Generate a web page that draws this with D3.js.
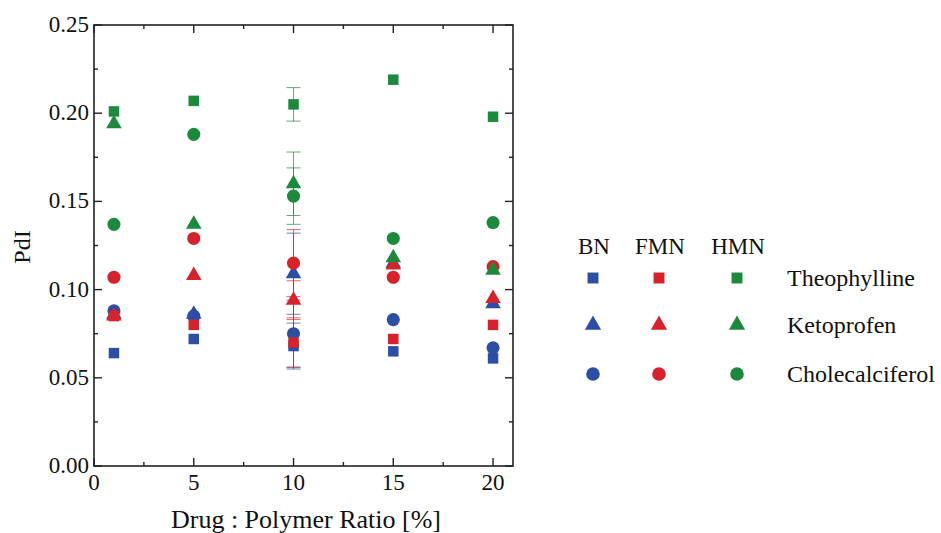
<html>
<head>
<meta charset="utf-8">
<style>
  body { margin: 0; background: #fff; }
  svg text { font-family: 'Liberation Serif', 'Times New Roman', serif; fill: #111; }
  .frame { fill: none; stroke: #222; stroke-width: 1.6; }
  .tick { stroke: #222; stroke-width: 1.4; }
</style>
</head>
<body>
<script src="https://cdn.jsdelivr.net/npm/d3@7"></script>
<script>

var ratios = [1, 5, 10, 15, 20];
var polymers = ['BN', 'FMN', 'HMN'];
var drugs = ['Theophylline', 'Ketoprofen', 'Cholecalciferol'];
var yTicks = [0, 0.05, 0.10, 0.15, 0.20, 0.25];
var xTicks = [0, 5, 10, 15, 20];

// PdI values, one array per polymer / drug
var bnTheo  = [0.064, 0.072, 0.068, 0.065, 0.061];
var bnKeto  = [0.086, 0.086, 0.109, 0.115, 0.092];
var bnChole = [0.088, 0.085, 0.075, 0.083, 0.067];
var fmnTheo  = [0.085, 0.080, 0.070, 0.072, 0.080];
var fmnKeto  = [0.085, 0.108, 0.094, 0.114, 0.095];
var fmnChole = [0.107, 0.129, 0.115, 0.107, 0.113];
var hmnTheo  = [0.201, 0.207, 0.205, 0.219, 0.198];
var hmnKeto  = [0.194, 0.137, 0.160, 0.118, 0.111];
var hmnChole = [0.137, 0.188, 0.153, 0.129, 0.138];

// standard deviations (only reported at 10 %)
var bnTheoErr  = [null, null, 0.013, null, null];
var bnKetoErr  = [null, null, 0.023, null, null];
var bnCholeErr = [null, null, 0.019, null, null];
var fmnTheoErr  = [null, null, 0.014, null, null];
var fmnKetoErr  = [null, null, 0.011, null, null];
var fmnCholeErr = [null, null, 0.019, null, null];
var hmnTheoErr  = [null, null, 0.0095, null, null];
var hmnKetoErr  = [null, null, 0.018, null, null];
var hmnCholeErr = [null, null, 0.016, null, null];

var colors = { BN: '#2c4ea5', FMN: '#d8222b', HMN: '#1c8a3d' };
var shapes = { Theophylline: d3.symbolSquare, Ketoprofen: d3.symbolTriangle, Cholecalciferol: d3.symbolCircle };
var sizes = { Theophylline: 110, Ketoprofen: 105, Cholecalciferol: 135 };

var series = [
  { polymer: 'BN', drug: 'Theophylline', values: bnTheo, err: bnTheoErr },
  { polymer: 'BN', drug: 'Ketoprofen', values: bnKeto, err: bnKetoErr },
  { polymer: 'BN', drug: 'Cholecalciferol', values: bnChole, err: bnCholeErr },
  { polymer: 'FMN', drug: 'Theophylline', values: fmnTheo, err: fmnTheoErr },
  { polymer: 'FMN', drug: 'Ketoprofen', values: fmnKeto, err: fmnKetoErr },
  { polymer: 'FMN', drug: 'Cholecalciferol', values: fmnChole, err: fmnCholeErr },
  { polymer: 'HMN', drug: 'Theophylline', values: hmnTheo, err: hmnTheoErr },
  { polymer: 'HMN', drug: 'Ketoprofen', values: hmnKeto, err: hmnKetoErr },
  { polymer: 'HMN', drug: 'Cholecalciferol', values: hmnChole, err: hmnCholeErr }
];

var width = 941, height = 533;
var plotL = 94, plotR = 513, plotT = 25, plotB = 466;

var svg = d3.select('body').append('svg')
  .attr('width', width)
  .attr('height', height);

var x = d3.scaleLinear().domain([0, 21]).range([plotL, plotR]);
var y = d3.scaleLinear().domain([0, 0.25]).range([plotB, plotT]);

// error bars first, markers on top
series.forEach(function (s) {
  var g = svg.append('g').attr('stroke', colors[s.polymer]).attr('stroke-opacity', 0.7).attr('stroke-width', 1);
  s.values.forEach(function (v, i) {
    var e = s.err[i];
    if (e == null) return;
    var cx = x(ratios[i]);
    g.append('line').attr('x1', cx).attr('x2', cx).attr('y1', y(v - e)).attr('y2', y(v + e));
    [v - e, v + e].forEach(function (c) {
      g.append('line').attr('x1', cx - 7).attr('x2', cx + 7).attr('y1', y(c)).attr('y2', y(c));
    });
  });
});

series.forEach(function (s) {
  svg.append('g').selectAll('path')
    .data(s.values)
    .enter().append('path')
    .attr('d', d3.symbol().type(shapes[s.drug]).size(sizes[s.drug]))
    .attr('transform', function (d, i) { return 'translate(' + x(ratios[i]) + ',' + y(d) + ')'; })
    .attr('fill', colors[s.polymer]);
});

// frame
svg.append('rect').attr('class', 'frame')
  .attr('x', plotL).attr('y', plotT).attr('width', plotR - plotL).attr('height', plotB - plotT);

// inward ticks on all four sides
var xMinor = d3.range(0, 21, 2.5);
var yMinor = d3.range(0, 0.2501, 0.025);
xMinor.forEach(function (t) {
  var len = (t % 5 === 0) ? 8 : 4;
  svg.append('line').attr('class', 'tick').attr('x1', x(t)).attr('x2', x(t)).attr('y1', plotB).attr('y2', plotB - len);
  svg.append('line').attr('class', 'tick').attr('x1', x(t)).attr('x2', x(t)).attr('y1', plotT).attr('y2', plotT + len);
});
yMinor.forEach(function (t, i) {
  var len = (i % 2 === 0) ? 8 : 4;
  svg.append('line').attr('class', 'tick').attr('x1', plotL).attr('x2', plotL + len).attr('y1', y(t)).attr('y2', y(t));
  svg.append('line').attr('class', 'tick').attr('x1', plotR).attr('x2', plotR - len).attr('y1', y(t)).attr('y2', y(t));
});

// tick labels
svg.selectAll('.xl').data(xTicks).enter().append('text')
  .attr('x', function (d) { return x(d); })
  .attr('y', plotB + 24)
  .attr('text-anchor', 'middle')
  .attr('font-size', 23)
  .text(function (d) { return d; });

svg.selectAll('.yl').data(yTicks).enter().append('text')
  .attr('x', plotL - 5)
  .attr('y', function (d) { return y(d) + 7; })
  .attr('text-anchor', 'end')
  .attr('font-size', 23)
  .text(d3.format('.2f'));

svg.append('text')
  .attr('x', 306)
  .attr('y', 528)
  .attr('text-anchor', 'middle')
  .attr('font-size', 26)
  .text('Drug : Polymer Ratio [%]');

svg.append('text')
  .attr('transform', 'translate(30,' + 247 + ') rotate(-90)')
  .attr('text-anchor', 'middle')
  .attr('font-size', 24)
  .text('PdI');

// legend grid
var colX = { BN: 593, FMN: 659, HMN: 737 };
var rowY = { Theophylline: 278, Ketoprofen: 325, Cholecalciferol: 374 };

polymers.forEach(function (p) {
  svg.append('text').attr('x', colX[p] + 1).attr('y', 254).attr('text-anchor', 'middle')
    .attr('font-size', 23).text(p);
  drugs.forEach(function (dr) {
    svg.append('path')
      .attr('d', d3.symbol().type(shapes[dr]).size(sizes[dr] + 10))
      .attr('transform', 'translate(' + colX[p] + ',' + rowY[dr] + ')')
      .attr('fill', colors[p]);
  });
});
drugs.forEach(function (dr) {
  svg.append('text').attr('x', 787).attr('y', rowY[dr] + 8)
    .attr('font-size', 24).text(dr);
});

</script>
</body>
</html>
